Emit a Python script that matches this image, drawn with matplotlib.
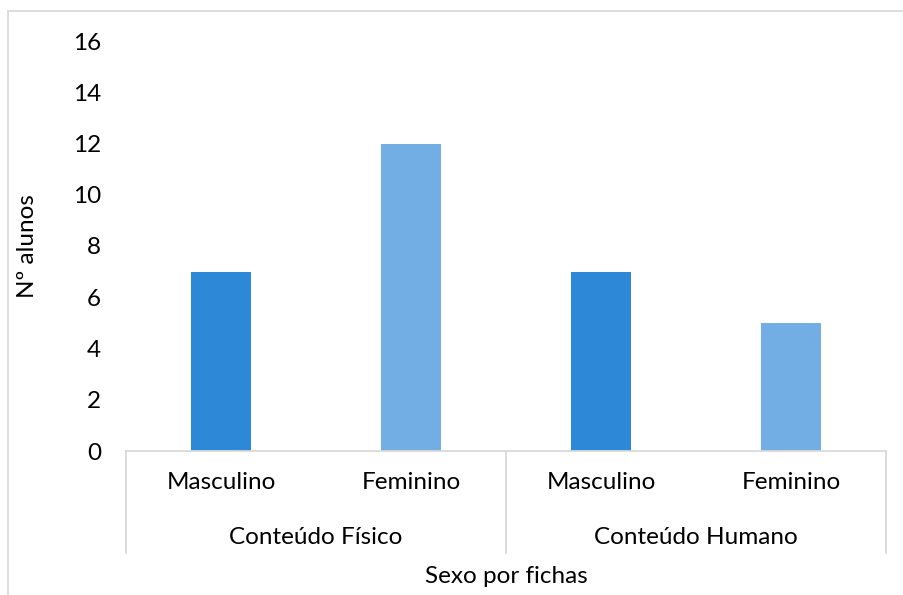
import matplotlib.pyplot as plt
from matplotlib.patches import Rectangle

sexo = ['Masculino', 'Feminino', 'Masculino', 'Feminino']
grupos = ['Conteúdo Físico', 'Conteúdo Humano']
alunos = [7, 12, 7, 5]
cores = ['#2E88D8', '#72AEE4', '#2E88D8', '#72AEE4']
yticks = [0, 2, 4, 6, 8, 10, 12, 14, 16]

plt.rcParams['font.family'] = ['Lato', 'DejaVu Sans']
fs = 17.5
fig = plt.figure(figsize=(9.04, 5.95), dpi=100)
ax = fig.add_axes([126/904, 1-451/595, 760/904, 410/595])

# borda do gráfico (estilo Excel)
fig.patches.append(Rectangle((8/904, -0.1), 1.2, 1-11/595+0.1, transform=fig.transFigure,
                             fill=False, edgecolor='#D9D9D9', linewidth=1.3, clip_on=False))

x = list(range(len(alunos)))
ax.bar(x, alunos, width=0.316, color=cores)

ax.set_xlim(-0.5, 3.5)
ax.set_ylim(0, 16)
ax.set_yticks(yticks)
ax.tick_params(axis='y', length=0, pad=18, labelsize=fs)
ax.set_xticks([])
for s in ['left', 'right', 'top']:
    ax.spines[s].set_visible(False)
ax.spines['bottom'].set_color('#D9D9D9')
ax.spines['bottom'].set_linewidth(1.3)

tr = ax.get_xaxis_transform()
for i, lab in enumerate(sexo):
    ax.text(i, -0.078, lab, transform=tr, ha='center', va='center', fontsize=fs)
for g, lab in enumerate(grupos):
    ax.text(2*g + 0.5, -0.21, lab, transform=tr, ha='center', va='center', fontsize=fs)
for xs in [-0.5, 1.5, 3.5]:
    ax.plot([xs, xs], [0, -0.249], transform=tr, color='#D9D9D9', linewidth=1.3, clip_on=False)

ax.text(1.5, -0.307, 'Sexo por fichas', transform=tr, ha='center', va='center', fontsize=fs)
ax.set_ylabel('Nº alunos', fontsize=fs)
ax.yaxis.set_label_coords(-0.1158, 0.5)

fig.savefig('out.png', dpi=100)
